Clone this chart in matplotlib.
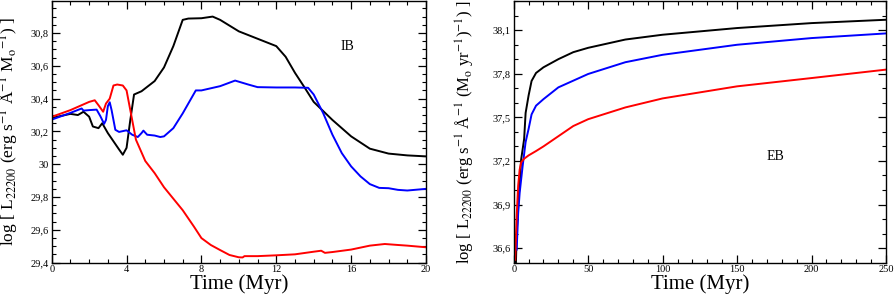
import matplotlib
matplotlib.use("Agg")
import matplotlib.pyplot as plt
from matplotlib.ticker import MultipleLocator, FuncFormatter

plt.rcParams['font.family'] = ['Liberation Serif', 'DejaVu Serif']
plt.rcParams['mathtext.fontset'] = 'stix'

# ---- Left panel (IB) ----
ib_black_t = [0, 1.0, 1.4, 1.7, 2.0, 2.2, 2.5, 2.7, 3.0, 3.3, 3.6, 3.8, 4.0, 4.2, 4.4, 4.8, 5.5, 6.0, 6.5, 7.0, 7.3, 8.0, 8.6, 9.0, 10, 11, 12, 12.5, 13, 13.5, 14, 15, 16, 17, 18, 19, 20]
ib_black_v = [30.282, 30.307, 30.30, 30.32, 30.29, 30.23, 30.22, 30.25, 30.19, 30.14, 30.09, 30.058, 30.10, 30.27, 30.425, 30.445, 30.507, 30.59, 30.72, 30.88, 30.888, 30.89, 30.90, 30.88, 30.81, 30.765, 30.72, 30.655, 30.557, 30.47, 30.38, 30.27, 30.17, 30.095, 30.065, 30.054, 30.048]

ib_red_t = [0, 1, 2, 2.3, 2.5, 2.75, 2.9, 3.1, 3.3, 3.5, 3.8, 4.0, 4.2, 4.5, 5.0, 5.5, 6.0, 7.0, 7.6, 8.0, 8.5, 9.0, 9.5, 10, 10.2, 10.3, 11, 12, 13, 14, 14.4, 14.6, 15, 16, 17, 17.8, 18.5, 19, 20]
ib_red_v = [30.289, 30.33, 30.38, 30.39, 30.36, 30.32, 30.37, 30.40, 30.48, 30.486, 30.48, 30.45, 30.33, 30.15, 30.02, 29.946, 29.86, 29.72, 29.62, 29.55, 29.508, 29.477, 29.447, 29.433, 29.432, 29.44, 29.44, 29.445, 29.451, 29.467, 29.473, 29.46, 29.465, 29.48, 29.504, 29.514, 29.508, 29.504, 29.494]

ib_blue_t = [0, 1, 1.6, 1.7, 2.0, 2.4, 2.6, 2.8, 2.9, 3.0, 3.1, 3.2, 3.4, 3.6, 4.0, 4.3, 4.6, 4.8, 4.9, 5.1, 5.5, 5.8, 6.0, 6.5, 7.0, 7.7, 8.0, 9.0, 9.8, 10.5, 11, 12, 13, 13.7, 14, 14.5, 15, 15.5, 16, 16.5, 17, 17.5, 18, 18.5, 19, 20]
ib_blue_v = [30.272, 30.313, 30.34, 30.327, 30.33, 30.333, 30.293, 30.246, 30.27, 30.354, 30.378, 30.33, 30.21, 30.197, 30.207, 30.18, 30.166, 30.19, 30.205, 30.18, 30.175, 30.166, 30.17, 30.22, 30.31, 30.45, 30.45, 30.476, 30.51, 30.486, 30.47, 30.468, 30.468, 30.466, 30.425, 30.313, 30.18, 30.068, 29.987, 29.926, 29.879, 29.856, 29.854, 29.844, 29.84, 29.85]

# ---- Right panel (EB) ----
eb_black_t = [1.5, 2, 3, 5, 7, 8, 10, 12, 15, 20, 30, 40, 50, 75, 100, 150, 200, 250]
eb_black_v = [36.5, 36.70, 36.89, 37.21, 37.35, 37.53, 37.65, 37.75, 37.805, 37.844, 37.90, 37.948, 37.978, 38.035, 38.068, 38.114, 38.148, 38.171]

eb_blue_t = [2, 3, 4, 6, 8, 10, 12, 15, 20, 30, 40, 50, 75, 100, 150, 200, 250]
eb_blue_v = [36.59, 36.84, 36.98, 37.165, 37.33, 37.42, 37.52, 37.58, 37.625, 37.706, 37.752, 37.798, 37.879, 37.93, 37.999, 38.045, 38.077]

eb_red_t = [1, 2, 3, 4, 5, 7, 10, 15, 20, 30, 40, 50, 75, 100, 150, 200, 250]
eb_red_v = [36.52, 36.82, 37.03, 37.14, 37.19, 37.215, 37.238, 37.268, 37.30, 37.37, 37.44, 37.487, 37.568, 37.63, 37.713, 37.77, 37.828]

W, H = 894, 294
fig = plt.figure(figsize=(W / 100, H / 100), dpi=100)

def ax_rect(x0, x1, y0, y1):
    return [x0 / W, (H - y1) / H, (x1 - x0) / W, (y1 - y0) / H]

ax1 = fig.add_axes(ax_rect(51.7, 426, 1, 262.7))
ax2 = fig.add_axes(ax_rect(513.7, 886, 1, 262.7))

lw = 1.4
ax1.plot(ib_black_t, ib_black_v, color='black', lw=lw)
ax1.plot(ib_blue_t, ib_blue_v, color='blue', lw=lw)
ax1.plot(ib_red_t, ib_red_v, color='red', lw=lw)

ax2.plot(eb_black_t, eb_black_v, color='black', lw=lw)
ax2.plot(eb_blue_t, eb_blue_v, color='blue', lw=lw)
ax2.plot(eb_red_t, eb_red_v, color='red', lw=lw)

ax1.set_xlim(0, 20)
ax1.set_ylim(29.4, 30.995)
ax2.set_xlim(0, 250)
ax2.set_ylim(36.5, 38.3)

def comma_fmt(v, pos):
    s = ('%.1f' % v)
    if s.endswith('.0'):
        s = s[:-2]
    return s.replace('.', ',')

ax1.xaxis.set_major_locator(MultipleLocator(4))
ax1.xaxis.set_minor_locator(MultipleLocator(1))
ax1.yaxis.set_major_locator(MultipleLocator(0.2))
ax1.yaxis.set_minor_locator(MultipleLocator(0.05))
ax2.xaxis.set_major_locator(MultipleLocator(50))
ax2.xaxis.set_minor_locator(MultipleLocator(10))
ax2.yaxis.set_major_locator(MultipleLocator(0.3))
ax2.yaxis.set_minor_locator(MultipleLocator(0.1))

for ax in (ax1, ax2):
    ax.yaxis.set_major_formatter(FuncFormatter(comma_fmt))
    ax.tick_params(which='both', direction='in', top=True, right=True, labelsize=7.5, pad=2)
    ax.tick_params(which='major', length=6, width=0.9)
    ax.tick_params(which='minor', length=3, width=0.8)
    for s in ax.spines.values():
        s.set_linewidth(1.0)
    ax.set_xlabel('Time (Myr)', fontsize=15, labelpad=0)

ax1.set_ylabel(r'log [ L$_{22200}$ (erg s$^{-1}$ Å$^{-1}$ M$_{\rm o}$$^{-1}$) ]', fontsize=12.5)
ax2.set_ylabel(r'log [ L$_{22200}$ (erg s$^{-1}$ Å$^{-1}$ (M$_{\rm o}$ yr$^{-1}$)$^{-1}$) ]', fontsize=12)
ax1.yaxis.set_label_coords(-0.083, 0.5)
ax2.yaxis.set_label_coords(-0.099, 0.5)

ax1.text(15.8, 30.72, 'IB', fontsize=10, ha='center', va='center')
ax2.text(175.5, 37.23, 'EB', fontsize=10, ha='center', va='center')

fig.savefig('out.png', dpi=100)
